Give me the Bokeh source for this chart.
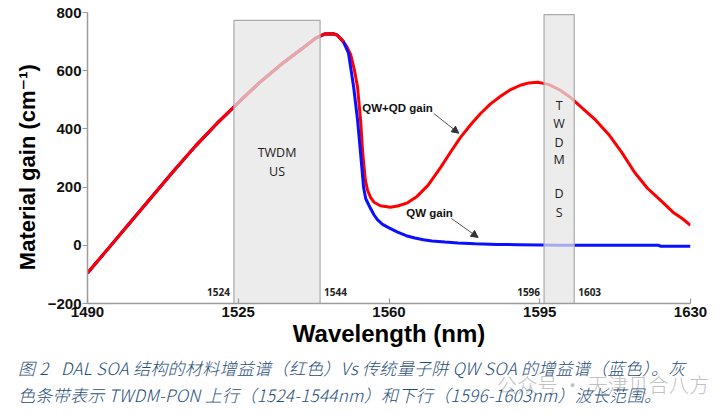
from bokeh.plotting import figure
from bokeh.layouts import column
from bokeh.models import Range1d, FixedTicker, Arrow, NormalHead, ColumnDataSource, Div
from bokeh.core.properties import value
from bokeh.embed import file_html
from bokeh.resources import INLINE

# ---- data ----
red_wl = [1490, 1495, 1500, 1505, 1510, 1515, 1520, 1525, 1530, 1535, 1540, 1543, 1545, 1547,
          1548, 1549.4, 1550.3, 1551.1, 1552, 1552.7, 1553.4, 1553.9, 1554.5, 1555, 1555.7,
          1556.5, 1558, 1560.3, 1562, 1564.3, 1566.5, 1569, 1572, 1574.5, 1576.6, 1579,
          1581.2, 1583.5, 1585.9, 1588, 1590.5, 1592.5, 1594.5, 1597, 1599.5, 1602, 1605,
          1608, 1611, 1614, 1617, 1620, 1623, 1626, 1628, 1630]
red_gain = [-95, -8, 80, 168, 255, 340, 418, 490, 560, 622, 678, 712, 726, 727,
            722, 700, 680, 655, 600, 543, 430, 316, 225, 190, 165,
            148, 136, 131, 135, 146, 168, 205, 268, 325, 371, 415,
            452, 485, 512, 533, 550, 558, 560, 553, 535, 510, 470,
            430, 381, 320, 251, 196, 155, 113, 93, 69]

blue_wl = [1490, 1495, 1500, 1505, 1510, 1515, 1520, 1525, 1530, 1535, 1540, 1543, 1545, 1547,
           1548, 1549.4, 1550.6, 1551.8, 1552.7, 1553.4, 1554.1, 1554.6, 1555.6, 1556.5,
           1557.3, 1558.5, 1560, 1562, 1564, 1566, 1568, 1570, 1573, 1576, 1580, 1585,
           1590, 1595, 1600, 1610, 1620, 1622.6, 1623, 1630]
blue_gain = [-95, -8, 80, 168, 255, 340, 418, 490, 560, 622, 678, 712, 726, 727,
             722, 700, 660, 543, 430, 316, 199, 160, 130, 105,
             88, 72, 60, 45, 33, 25, 19, 15, 11, 8, 5, 3,
             2, 1, 0, 0, 0, 0, -3, -3]

band_start = [1524, 1596]
band_end = [1544, 1603]

x_ticks = [1490, 1525, 1560, 1595, 1630]
y_ticks = [-200, 0, 200, 400, 600, 800]

caption_1 = "图 2   DAL SOA 结构的材料增益谱（红色）Vs 传统量子阱 QW SOA 的增益谱（蓝色）。灰"
caption_2 = "色条带表示 TWDM-PON 上行（1524-1544nm）和下行（1596-1603nm）波长范围。"
watermark = "公众号 · 天津贝合八方"

# ---- main chart ----
p = figure(width=726, height=350, output_backend="svg", toolbar_location=None,
           x_range=Range1d(1490, 1630), y_range=Range1d(-200, 800),
           min_border_left=87, min_border_right=36, min_border_top=12, min_border_bottom=47)
p.background_fill_color = "white"
p.border_fill_color = "white"
p.outline_line_color = None
p.xgrid.visible = False
p.ygrid.visible = False

axis_col = "#9c9c9c"
for ax in (p.xaxis[0], p.yaxis[0]):
    ax.axis_line_color = axis_col
    ax.axis_line_width = 1.5
    ax.major_tick_line_color = axis_col
    ax.major_tick_line_width = 1.2
    ax.minor_tick_line_color = None
    ax.major_label_text_font = "Liberation Sans"
    ax.major_label_text_font_style = "bold"
    ax.major_label_text_font_size = "15px"
    ax.major_label_text_color = "#111111"
    ax.axis_label_text_font = "Liberation Sans, DejaVu Sans"
    ax.axis_label_text_font_style = "bold"
    ax.axis_label_text_color = "#000000"
    ax.axis_label_text_font_size = "24px"

p.xaxis.ticker = FixedTicker(ticks=x_ticks)
p.xaxis.major_tick_in = 5
p.xaxis.major_tick_out = 0
p.xaxis.major_label_standoff = 3
p.xaxis.axis_label = "Wavelength (nm)"
p.xaxis.axis_label_standoff = 0

p.yaxis.ticker = FixedTicker(ticks=y_ticks)
p.yaxis.major_tick_in = 0
p.yaxis.major_tick_out = 5
p.yaxis.major_label_standoff = 1
p.yaxis.axis_label = "Material gain (cm\u207b\u00b9)" + "\u00a0" * 3
p.yaxis.axis_label_standoff = 5
p.yaxis.axis_label_text_font_size = "22px"

# curves
p.line(red_wl, red_gain, line_color="#ff0000", line_width=3)
p.line(blue_wl, blue_gain, line_color="#0a10ff", line_width=3)
p.line(red_wl[:16], red_gain[:16], line_color="#ff0000", line_width=3)

# bands (semi-transparent over curves)
band_top = [773, 793]
bands = ColumnDataSource(dict(left=band_start, right=band_end, top=band_top,
                              bottom=[-200, -200]))
p.quad(left="left", right="right", top="top", bottom="bottom", source=bands,
       fill_color="#e4e4e4", fill_alpha=0.72, line_color="#aaaaaa", line_width=1.2)

# band edge labels
lab_src_l = ColumnDataSource(dict(x=band_start, y=[-160, -160], t=[str(v) for v in band_start]))
lab_src_r = ColumnDataSource(dict(x=band_end, y=[-160, -160], t=[str(v) for v in band_end]))
p.text(x="x", y="y", text="t", source=lab_src_l, text_align="right", text_baseline="middle",
       x_offset=-4, text_font=value("Open Sans"), text_font_style="bold",
       text_font_size="10px", text_color="#222222")
p.text(x="x", y="y", text="t", source=lab_src_r, text_align="left", text_baseline="middle",
       x_offset=4, text_font=value("Open Sans"), text_font_style="bold",
       text_font_size="10px", text_color="#222222")

# band names
us_mid = (band_start[0] + band_end[0]) / 2
p.text(x=[us_mid, us_mid], y=[320, 252], text=["TWDM", "US"], text_align="center",
       text_baseline="middle", text_font=value("Open Sans"), text_font_size="12.5px",
       text_color="#222222")
ds_mid = (band_start[1] + band_end[1]) / 2
ds_letters = ["T", "W", "D", "M", "D", "S"]
ds_y = [480, 418, 353, 295, 178, 113]
p.text(x=[ds_mid] * 6, y=ds_y, text=ds_letters, text_align="center", text_baseline="middle",
       text_font=value("Open Sans"), text_font_size="12.5px", text_color="#222222")

# curve annotations
p.text(x=[1553.8, 1564.0], y=[473, 110], text=["QW+QD gain", "QW gain"], text_align="left",
       text_baseline="middle", text_font=value("Liberation Sans"), text_font_style="bold",
       text_font_size="11.5px", text_color="#111111")
p.add_layout(Arrow(end=NormalHead(size=7, fill_color="#333333", line_color="#333333"),
                   x_start=1570.4, y_start=453, x_end=1576.2, y_end=385,
                   line_color="#555555", line_width=1))
p.add_layout(Arrow(end=NormalHead(size=7, fill_color="#333333", line_color="#333333"),
                   x_start=1574.5, y_start=92, x_end=1580.7, y_end=27,
                   line_color="#555555", line_width=1))

# ---- caption (HTML text block below the chart) ----
cap_html = (
    '<div style="position:relative;width:726px;height:69px;overflow:hidden;'
    'font-family:\'Noto Sans CJK SC\';font-style:italic;font-size:17px;letter-spacing:0.3px;'
    'color:#1f4e79;font-weight:300;">'
    '<span style="position:absolute;left:497px;top:21px;line-height:28px;font-size:20px;'
    'font-style:normal;color:#c2c2c2;white-space:pre;">' + watermark + '</span>'
    '<span style="position:absolute;left:18px;top:7px;line-height:22px;white-space:pre;">'
    + caption_1 + '</span>'
    '<span style="position:absolute;left:18px;top:34px;line-height:22px;white-space:pre;">'
    + caption_2 + '</span>'
    '</div>'
)
cap = Div(text=cap_html, width=726, height=69, margin=(0, 0, 0, 0))

layout = column(p, cap, spacing=0)
open("out.html", "w").write(file_html(layout, INLINE))
